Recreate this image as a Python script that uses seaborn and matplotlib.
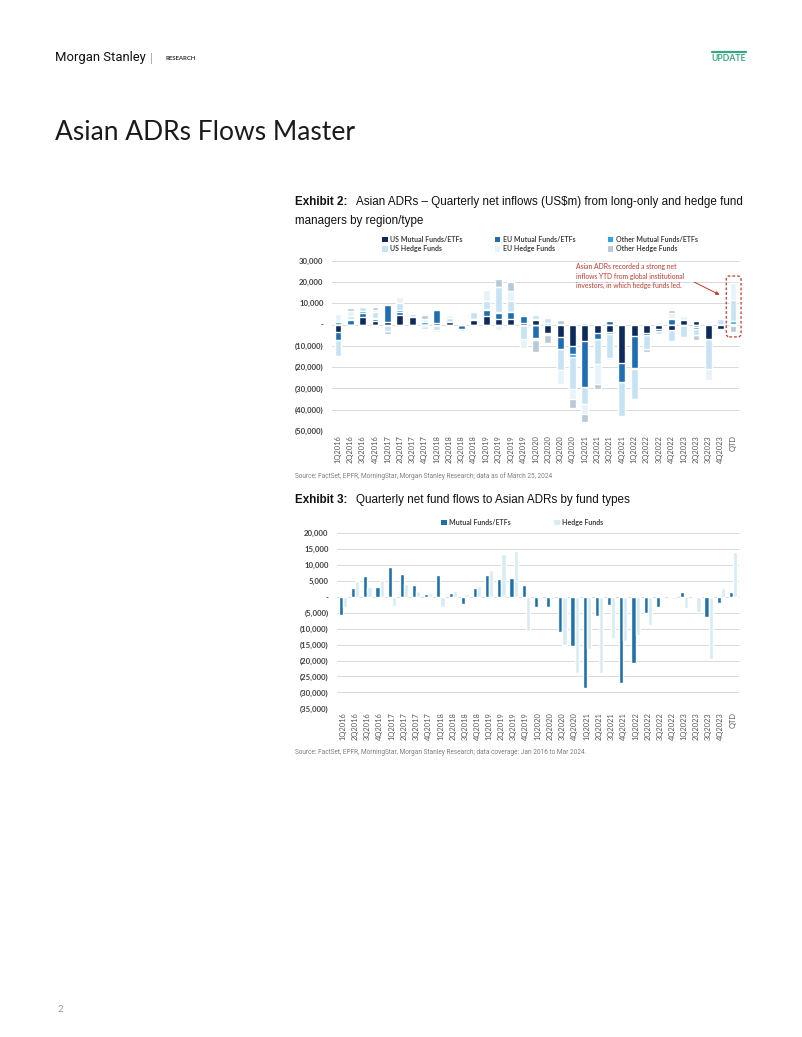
import numpy as np
import pandas as pd
import matplotlib
matplotlib.use("Agg")
import matplotlib.pyplot as plt
import seaborn as sns
from matplotlib.patches import Patch, FancyBboxPatch
from matplotlib.ticker import FuncFormatter, MultipleLocator

# ---------------- data ----------------
quarters = ["1Q2016", "2Q2016", "3Q2016", "4Q2016", "1Q2017", "2Q2017", "3Q2017", "4Q2017",
            "1Q2018", "2Q2018", "3Q2018", "4Q2018", "1Q2019", "2Q2019", "3Q2019", "4Q2019",
            "1Q2020", "2Q2020", "3Q2020", "4Q2020", "1Q2021", "2Q2021", "3Q2021", "4Q2021",
            "1Q2022", "2Q2022", "3Q2022", "4Q2022", "1Q2023", "2Q2023", "3Q2023", "4Q2023", "QTD"]

# Exhibit 2 (US$m)
us_mf = [-3300, 0, 3600, 1500, 1100, 4300, 3600, 0, 800, 1200, 0, 2300, 3900, 2800, 2800, 800,
         2000, -3800, -5800, -10300, -7800, -3900, -3300, -18000, -5500, -4000, -2200, -2700,
         2000, 1500, -6600, -2000, 0]
eu_mf = [-3900, 2300, 1900, 1200, 7900, 1500, 0, -600, 5900, 0, -2300, 500, 2800, 2600, 3100, 3100,
         -6300, 0, -5600, -3600, -21700, -2800, 1500, -9000, -15000, -1000, -800, 2800,
         -400, -1300, 0, 0, 400]
other_mf = [1100, 400, 900, 500, 300, 1100, 0, 1400, 0, 0, 0, 0, 600, 300, 0, 0,
            700, 500, 0, -1500, 800, 0, -1000, 0, -500, 0, 0, 300,
            0, -800, 0, 0, 1100]
us_hf = [-7400, 1500, 1700, 2500, -3000, 3100, 1200, -1700, -2500, 2000, -700, 3000, 3600, 12000, 5400, -7000,
         1900, 2500, -10000, -15000, -7800, -12000, -11500, -15800, -13900, -6500, -1500, -5000,
         -5500, -3000, -14500, 2800, 10000]
eu_hf = [4000, 2000, -800, 1200, 0, 3100, 500, 1400, -800, 1500, 500, 800, 5400, -2600, 4600, -4000,
         -1000, -1000, -6600, -4500, -4600, -9300, -1000, 0, 0, 0, 1200, 2300,
         1900, 0, -5000, 0, 7800]
other_hf = [0, 1800, 0, 1500, -1500, -1200, 0, 1500, 0, 0, 0, 0, -500, 3900, 4200, 0,
            -5500, -4000, 2000, -4200, -3800, -2300, 0, 0, 0, -1500, 0, 1600,
            0, -2000, 0, 0, -3700]

# Exhibit 3 (US$m)
mutual_funds = [-5800, 2700, 6500, 3000, 9300, 7100, 3600, 800, 6800, 1200, -2300, 2800, 6900, 5600, 5800, 3700,
                -3200, -3300, -11000, -15300, -28500, -6000, -2400, -27000, -20800, -5000, -3100, -300,
                1600, -300, -6200, -2000, 1600]
hedge_funds = [-3300, 5000, 3000, 5200, -2800, 4000, 2000, 1200, -3300, 1800, 1000, 3300, 8500, 13500, 14500, -10800,
               -500, -800, -15000, -23800, -16500, -24000, -13000, -14000, -12000, -8800, -300, -800,
               -3600, -4800, -19500, 2800, 14000]

labels1 = ["US Mutual Funds/ETFs", "EU Mutual Funds/ETFs", "Other Mutual Funds/ETFs",
           "US Hedge Funds", "EU Hedge Funds", "Other Hedge Funds"]
colors1 = ["#0c2a5b", "#1f6db3", "#2ba6de", "#c6e3f4", "#e6f3fa", "#b9c9d7"]
labels2 = ["Mutual Funds/ETFs", "Hedge Funds"]
colors2 = ["#1d72ad", "#d8ecf4"]

# ---------------- styling ----------------
sns.set_style("white")
plt.rcParams["font.family"] = ["Lato", "DejaVu Sans"]

W, H = 802, 1037
fig = plt.figure(figsize=(W / 100, H / 100), dpi=100)
fig.patch.set_facecolor("white")


def fx(x):
    return x / W


def fy(y):
    return 1 - y / H


def acct(v, pos=None):
    if abs(v) < 1e-9:
        return "-"
    if v < 0:
        return f"({abs(v):,.0f})"
    return f"{v:,.0f}"


TICK_C = "#404040"
GRID_C = "#d9d9d9"
RED = "#c8352e"
GREY_TXT = "#808080"


def style_axis(ax, lo, hi, step):
    ax.set_ylim(lo, hi)
    ax.set_xlim(-0.5, len(quarters) - 0.5)
    ax.yaxis.set_major_locator(MultipleLocator(step))
    ax.yaxis.set_major_formatter(FuncFormatter(acct))
    ax.grid(axis="y", color=GRID_C, lw=0.7)
    ax.grid(axis="x", visible=False)
    ax.set_axisbelow(True)
    for s in ax.spines.values():
        s.set_visible(False)
    ax.tick_params(axis="both", length=0)
    ax.tick_params(axis="y", labelsize=5.6, labelcolor=TICK_C, pad=6)
    ax.tick_params(axis="x", labelsize=5.4, labelcolor="#595959", pad=3)
    for t in ax.get_yticklabels():
        t.set_fontweight("bold")
    ax.set_xticks(range(len(quarters)))
    ax.set_xticklabels(quarters, rotation=90)
    ax.set_xlabel("")
    ax.set_ylabel("")


# ---------------- header ----------------
fig.text(fx(55), fy(58), "Morgan Stanley", family=["Roboto", "DejaVu Sans"],
         fontsize=9.4, color="#111111", va="center", ha="left")
fig.text(fx(150), fy(58), "|", fontsize=8, color="#999999", va="center", ha="left")
fig.text(fx(165), fy(58.5), "RESEARCH", fontsize=4.3, fontweight="bold", color="#333333",
         va="center", ha="left")
fig.lines.append(plt.Line2D([fx(712), fx(746)], [fy(52), fy(52)], transform=fig.transFigure,
                            color="#35a883", lw=1.6))
fig.text(fx(729), fy(58.5), "UPDATE", fontsize=6.2, fontweight="bold", color="#35a883",
         va="center", ha="center")
fig.text(fx(55), fy(133), "Asian ADRs Flows Master", fontsize=19, fontweight="normal",
         color="#1a1a1a", va="center", ha="left")

# ---------------- Exhibit 2 ----------------
cap_font = ["Liberation Sans", "DejaVu Sans"]
fig.text(fx(295), fy(202), "Exhibit 2:", family=cap_font, fontsize=8.4, fontweight="bold",
         va="center", ha="left", color="#111111")
fig.text(fx(356), fy(202), "Asian ADRs \u2013 Quarterly net inflows (US$m) from long-only and hedge fund",
         family=cap_font, fontsize=8.4, va="center", ha="left", color="#111111")
fig.text(fx(295), fy(221), "managers by region/type", family=cap_font, fontsize=8.4,
         va="center", ha="left", color="#111111")

ax1 = fig.add_axes([fx(331.8), fy(431), (739.2 - 331.8) / W, (431 - 260.7) / H])
series1 = [np.array(s, dtype=float) for s in (us_mf, eu_mf, other_mf, us_hf, eu_hf, other_hf)]
pos_cum = np.cumsum([np.clip(s, 0, None) for s in series1], axis=0)
neg_cum = np.cumsum([np.clip(s, None, 0) for s in series1], axis=0)
for k in range(len(series1) - 1, -1, -1):
    for cum in (pos_cum, neg_cum):
        sns.barplot(x=quarters, y=cum[k], order=quarters, color=colors1[k], saturation=1,
                    width=0.56, errorbar=None, ax=ax1)
style_axis(ax1, -50000, 30000, 10000)

handles1 = [Patch(facecolor=c, edgecolor="none") for c in colors1]
order = [0, 3, 1, 4, 2, 5]
ax1.legend([handles1[i] for i in order], [labels1[i] for i in order], ncol=3,
           loc="upper left", bbox_to_anchor=(fx(382), fy(236)), bbox_transform=fig.transFigure,
           frameon=False, prop={"size": 5, "weight": "bold"}, labelcolor="#404040",
           handlelength=0.8, handleheight=0.8, handletextpad=0.4, columnspacing=4.6,
           labelspacing=0.35, borderpad=0, borderaxespad=0)

# annotation
ann = ["Asian ADRs recorded a strong net", "inflows YTD from global institutional",
       "investors, in which hedge funds led."]
for i, line in enumerate(ann):
    fig.text(fx(576), fy(267 + 9.2 * i), line, fontsize=4.9, color=RED, va="center", ha="left")
fig.add_artist(matplotlib.patches.FancyArrowPatch(
    (fx(692), fy(281)), (fx(722), fy(296)), transform=fig.transFigure,
    arrowstyle="-|>", mutation_scale=5, color=RED, lw=0.7))
box = FancyBboxPatch((31.45, -5800), 1.2, 28600,
                     boxstyle="round,pad=0,rounding_size=0.25", mutation_aspect=5800,
                     fill=False, edgecolor=RED, lw=0.9, linestyle=(0, (2.2, 1.6)), clip_on=False)
ax1.add_patch(box)

fig.text(fx(295), fy(476), "Source: FactSet, EPFR, MorningStar, Morgan Stanley Research; data as of March 25, 2024",
         family=["Roboto", "DejaVu Sans"], fontsize=4.7, color=GREY_TXT, va="center", ha="left")

# ---------------- Exhibit 3 ----------------
fig.text(fx(295), fy(500), "Exhibit 3:", family=cap_font, fontsize=8.4, fontweight="bold",
         va="center", ha="left", color="#111111")
fig.text(fx(356), fy(500), "Quarterly net fund flows to Asian ADRs by fund types",
         family=cap_font, fontsize=8.4, va="center", ha="left", color="#111111")

ax2 = fig.add_axes([fx(336.9), fy(708.3), (739.1 - 336.9) / W, (708.3 - 533.3) / H])
df2 = pd.DataFrame({
    "Quarter": quarters * 2,
    "Type": [labels2[0]] * len(quarters) + [labels2[1]] * len(quarters),
    "Value": mutual_funds + hedge_funds,
})
sns.barplot(data=df2, x="Quarter", y="Value", hue="Type", order=quarters, hue_order=labels2,
            palette=colors2, saturation=1, width=0.68, errorbar=None, legend=False, ax=ax2)
style_axis(ax2, -35000, 20000, 5000)
handles2 = [Patch(facecolor=c, edgecolor="none") for c in colors2]
ax2.legend(handles2, labels2, ncol=2, loc="upper left", bbox_to_anchor=(fx(441), fy(519)),
           bbox_transform=fig.transFigure, frameon=False, prop={"size": 5, "weight": "bold"},
           labelcolor="#404040", handlelength=0.8, handleheight=0.8, handletextpad=0.4,
           columnspacing=6.2, borderpad=0, borderaxespad=0)

fig.text(fx(295), fy(753), "Source: FactSet, EPFR, MorningStar, Morgan Stanley Research; data coverage: Jan 2016 to Mar 2024.",
         family=["Roboto", "DejaVu Sans"], fontsize=4.7, color=GREY_TXT, va="center", ha="left")

# page number
fig.text(fx(57), fy(1010), "2", fontsize=7, color="#999999", va="center", ha="left")

fig.savefig("out.png", dpi=100, facecolor="white")
